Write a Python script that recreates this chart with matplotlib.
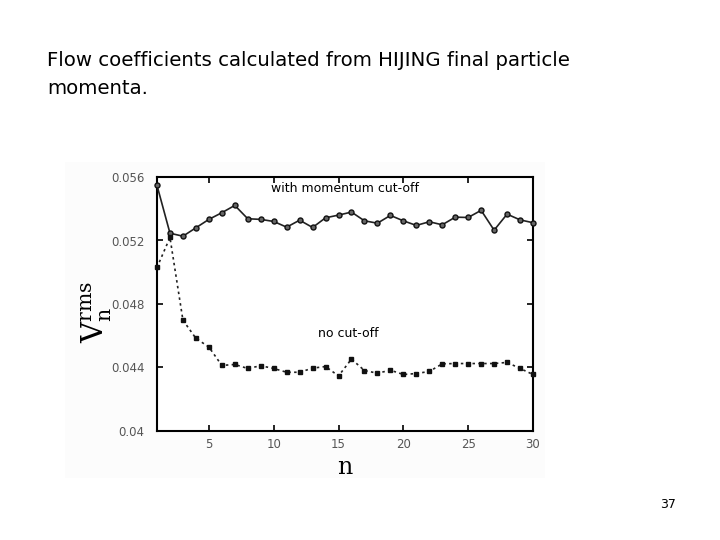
import numpy as np
import matplotlib.pyplot as plt
from matplotlib.patches import Rectangle

n = np.arange(1, 31)

v_cut = [0.05547, 0.05246, 0.05227, 0.05280, 0.05333, 0.05375, 0.05421, 0.05337,
         0.05333, 0.05320, 0.05284, 0.05328, 0.05282, 0.05343, 0.05360, 0.05379,
         0.05324, 0.05309, 0.05358, 0.05324, 0.05295, 0.05318, 0.05299, 0.05347,
         0.05345, 0.05390, 0.05265, 0.05366, 0.05330, 0.05312]

v_nocut = [0.05030, 0.05219, 0.04698, 0.04584, 0.04529, 0.04413, 0.04419, 0.04394,
           0.04411, 0.04394, 0.04370, 0.04370, 0.04396, 0.04406, 0.04347, 0.04453,
           0.04381, 0.04364, 0.04383, 0.04356, 0.04362, 0.04375, 0.04423, 0.04425,
           0.04425, 0.04425, 0.04425, 0.04432, 0.04394, 0.04356]

fig = plt.figure(figsize=(7.2, 5.4), dpi=100)

# faint background of the pasted picture
fig.patches.append(Rectangle((65 / 720, 1 - 478 / 540), 480 / 720, 316 / 540,
                             transform=fig.transFigure, facecolor='#fcfcfc',
                             edgecolor='none', zorder=-5))

fig.text(47 / 720, 1 - 61 / 540, "Flow coefficients calculated from HIJING final particle",
         fontsize=14.2, va='center', ha='left')
fig.text(47 / 720, 1 - 88 / 540, "momenta.", fontsize=14.2, va='center', ha='left')
fig.text(668 / 720, 1 - 505 / 540, "37", fontsize=9, ha='center', va='center')

ax = fig.add_axes([157 / 720, 1 - 431 / 540, 376 / 720, 254 / 540])
ax.set_facecolor('white')
ax.set_zorder(2)

ax.plot(n, v_cut, '-', color='#222222', lw=1.2, marker='o', ms=3.6,
        mfc='#666666', mec='#111111', mew=1, clip_on=False, zorder=3)
ax.plot(n, v_nocut, color='#222222', lw=1.2, ls=(0, (1.5, 2)), marker='s', ms=3.4,
        mfc='#111111', mec='#111111', clip_on=False, zorder=3)

ax.set_xlim(1, 30)
ax.set_ylim(0.04, 0.056)
ax.set_xticks([5, 10, 15, 20, 25, 30])
ax.set_yticks([0.04, 0.044, 0.048, 0.052, 0.056])
ax.set_yticklabels(['0.04', '0.044', '0.048', '0.052', '0.056'])
ax.tick_params(direction='in', top=True, right=True, length=4, width=1.2,
               labelsize=8.5, labelcolor='#555555')
ax.tick_params(axis='x', pad=5)
ax.tick_params(axis='y', pad=9)
for s in ax.spines.values():
    s.set_linewidth(1.5)

ax.text(0.5, 0.955, "with momentum cut-off", transform=ax.transAxes,
        ha='center', va='center', fontsize=9)
ax.text(0.51, 0.385, "no cut-off", transform=ax.transAxes,
        ha='center', va='center', fontsize=9)

fig.text(345 / 720, 1 - 467 / 540, "n", family='DejaVu Serif', fontsize=17,
         ha='center', va='center')
fig.text(97 / 720, 1 - 312 / 540, r"$\mathrm{V}_\mathrm{n}^\mathrm{rms}$",
         fontsize=21, rotation=90, ha='center', va='center',
         math_fontfamily='dejavuserif')

fig.savefig("out.png", dpi=100)
